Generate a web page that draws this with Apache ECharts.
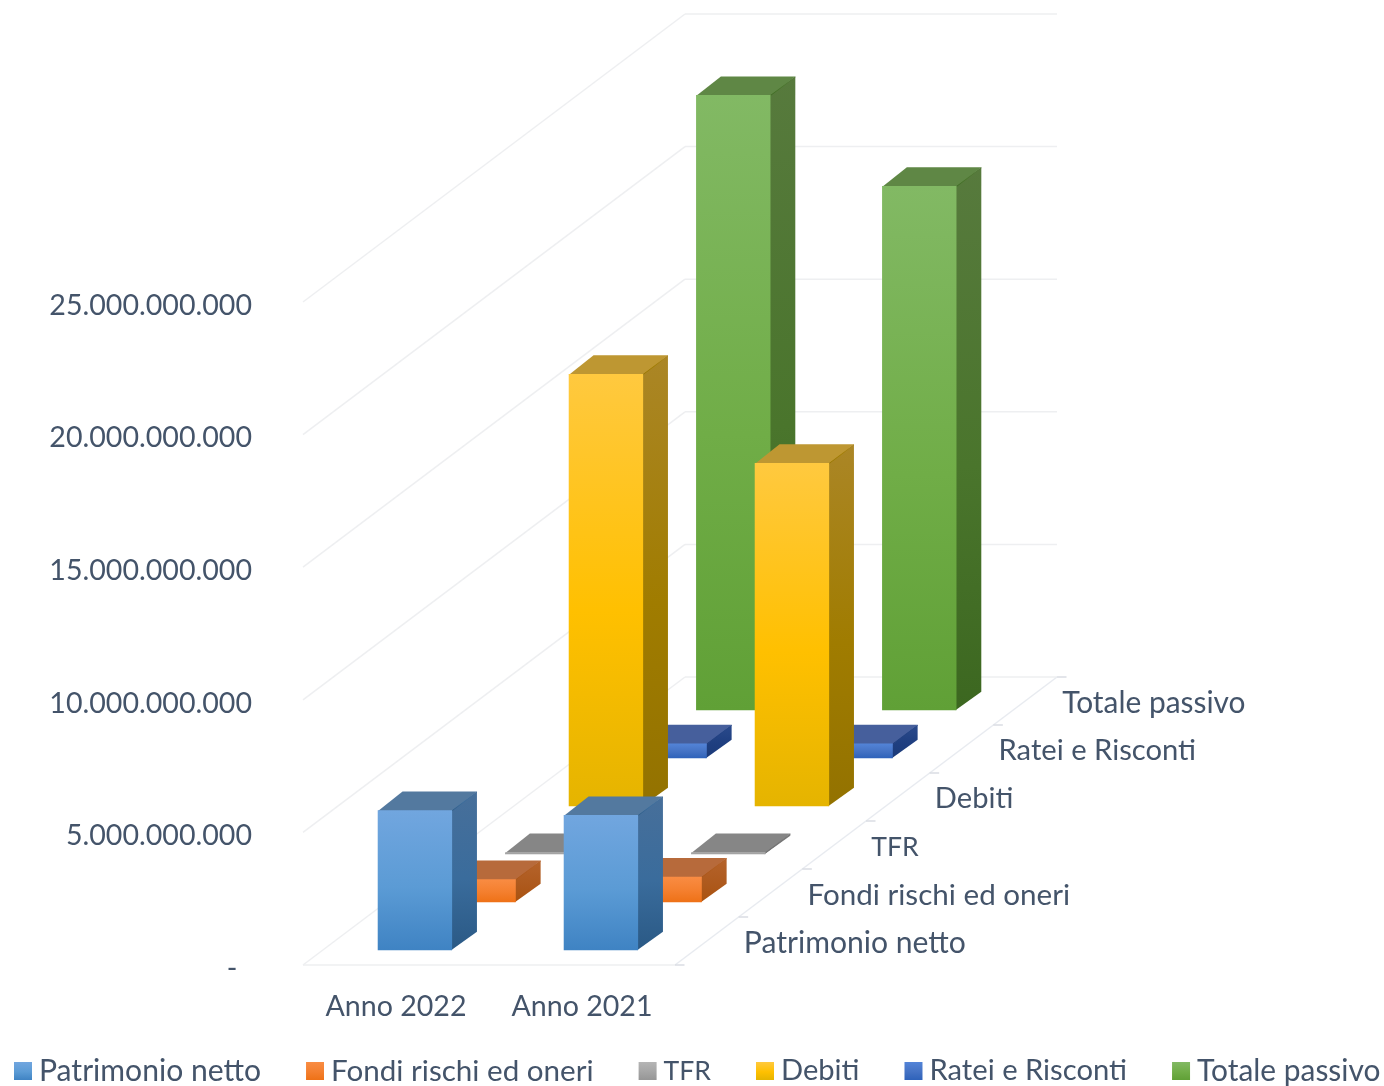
<!DOCTYPE html>
<html>
<head>
<meta charset="utf-8">
<style>html,body{margin:0;padding:0;background:#fff}#c{width:1384px;height:1086px}</style>
<script src="https://cdn.jsdelivr.net/npm/echarts@6/dist/echarts.min.js"></script>
</head>
<body>
<div id="c"></div>
<script>
const years = ['Anno 2022', 'Anno 2021'];
const names = ['Patrimonio netto', 'Fondi rischi ed oneri', 'TFR', 'Debiti', 'Ratei e Risconti', 'Totale passivo'];
const patrimonio = [5.28e9, 5.10e9];
const fondi = [0.87e9, 0.97e9];
const tfr = [0.08e9, 0.08e9];
const debiti = [16.3e9, 12.95e9];
const ratei = [0.56e9, 0.56e9];
const totale = [23.2e9, 19.77e9];
const valueTicks = [0, 5e9, 10e9, 15e9, 20e9, 25e9];

const seriesValues = [patrimonio, fondi, tfr, debiti, ratei, totale];

const grad = (a, b, c) => ({ type: 'linear', x: 0, y: 0, x2: 0, y2: 1,
  colorStops: [{ offset: 0, color: a }, { offset: 0.55, color: b }, { offset: 1, color: c }] });

const palette = [
  { front: grad('#71A6DF', '#5B9BD5', '#3F83C3'), side: grad('#476F9A', '#3A6C9C', '#2A5985'), top: '#53799F' },
  { front: grad('#F98C43', '#F47F2E', '#EE7116'), side: grad('#B5632B', '#AE5A1E', '#A9520F'), top: '#B76A3B' },
  { front: grad('#B5B5B5', '#A5A5A5', '#969696'), side: grad('#7C7C7C', '#747474', '#6C6C6C'), top: '#868686' },
  { front: grad('#FFC93F', '#FFC000', '#E5B400'), side: grad('#AB8626', '#A07C00', '#937200'), top: '#BE9732' },
  { front: grad('#5384D8', '#4472C4', '#2E62BA'), side: grad('#2A4A8C', '#1F3F80', '#1B3A78'), top: '#465F9C' },
  { front: grad('#82B964', '#70AD47', '#60A036'), side: grad('#577A3D', '#4A752C', '#3C6720'), top: '#5F8745' }
];

// Oblique projection of the depth axis, in pixels per depth step
const DX = 63.67, DY = 48;
const BAR_W = 0.4, BAR_D = 0.39;
const GRID = '#EEEFF1';
const TEXT = '#44546A';
const FONT = 'Lato';
const NUM_SIZE = 28.6;
// Lato stands in for the original font; per-word sizes keep each word's printed width
const wordSizes = [30.1, 29.6, 26.6, 29.1, 29.2, 29.9];

function line(p, q, color, w) {
  return { type: 'line', shape: { x1: p[0], y1: p[1], x2: q[0], y2: q[1] },
    style: { stroke: color || GRID, lineWidth: w || 1.5 }, silent: true };
}
function poly(points, fill) {
  return { type: 'polygon', shape: { points }, style: { fill, stroke: null }, silent: true };
}

function renderWall(params, api) {
  const v = api.value(1);
  const band = api.size([1, 0])[0];
  const a = api.coord([0, v]);
  const L = [a[0] - band / 2, a[1]];
  const B = [L[0] + DX * 6, L[1] - DY * 6];
  const R = [B[0] + band * 2, B[1]];
  return { type: 'group', children: [line(L, B), line(B, R)] };
}

function renderFloor(params, api) {
  const band = api.size([1, 0])[0];
  const a = api.coord([1, 0]);
  const l = api.coord([0, 0]);
  const fl = [l[0] - band / 2, l[1]];
  const fr = [a[0] + band / 2, a[1]];
  const kids = [line(fl, fr), line(fr, [fr[0] + DX * 6, fr[1] - DY * 6], '#E8EBF0')];
  for (let i = 0; i <= 6; i++) {
    const p = [fr[0] + DX * i, fr[1] - DY * i];
    kids.push(line(p, [p[0] + 9.5, p[1]], '#DADDE3', 1.5));
  }
  return { type: 'group', children: kids };
}

function renderDepthLabel(params, api) {
  const i = api.value(0);
  const band = api.size([1, 0])[0];
  const a = api.coord([1, 0]);
  const x = a[0] + band / 2 + DX * (i + 0.5) + 37;
  const y = a[1] - DY * (i + 0.5) + 2;
  return { type: 'text', silent: true, style: { x, y, text: names[i], fill: TEXT,
    font: wordSizes[i] + 'px ' + FONT, textAlign: 'left', textVerticalAlign: 'middle' } };
}

function makeBar(depth) {
  return function (params, api) {
    const cat = api.value(0), v = api.value(1);
    const band = api.size([1, 0])[0];
    const w = band * BAR_W;
    const d0 = depth + (1 - BAR_D) / 2;
    const base = api.coord([cat, 0]);
    const head = api.coord([cat, v]);
    const xl = base[0] - w / 2 + DX * d0 - 0.5;
    const xr = xl + w;
    const yb = base[1] - DY * d0;
    const yt = head[1] - DY * d0;
    const ox = DX * BAR_D, oy = DY * BAR_D;
    const c = palette[depth];
    // side and top run slightly under the front face so no seam shows through
    return { type: 'group', children: [
      poly([[xr - 1, yt], [xr + ox, yt - oy], [xr + ox, yb - oy], [xr - 1, yb]], c.side),
      poly([[xl, yt + 1], [xr, yt + 1], [xr + ox, yt - oy], [xl + ox, yt - oy]], c.top),
      poly([[xr, yt], [xr + ox, yt - oy], [xr + ox, yt - oy + 1], [xr, yt + 1]], c.side),
      poly([[xl, yt], [xr, yt], [xr, yb], [xl, yb]], c.front)
    ] };
  };
}

const series = [
  { type: 'custom', name: '_wall', z: 1, renderItem: renderWall, silent: true,
    encode: { x: 0, y: 1 }, data: valueTicks.map(v => [0, v]) },
  { type: 'custom', name: '_floor', z: 1, renderItem: renderFloor, silent: true,
    encode: { x: 0, y: 1 }, data: [[0, 0]] },
  { type: 'custom', name: '_depth', z: 30, renderItem: renderDepthLabel, silent: true,
    coordinateSystem: 'cartesian2d', encode: { y: 1 }, data: names.map((n, i) => [i, 0]) }
];

names.forEach((name, d) => {
  series.push({
    type: 'custom', name, z: 20 - d,
    renderItem: makeBar(d),
    itemStyle: { color: palette[d].front },
    encode: { x: 0, y: 1 },
    data: seriesValues[d].map((v, i) => [i, v])
  });
});

const chart = echarts.init(document.getElementById('c'), null, { renderer: 'canvas' });
chart.setOption({
  animation: false,
  backgroundColor: '#fff',
  tooltip: { show: false },
  grid: { left: 303, right: 709, top: 302, bottom: 121, containLabel: false },
  legend: {
    data: names.map((name, i) => ({ name, icon: 'rect', textStyle: { fontSize: wordSizes[i] } })),
    left: 14, top: 1056, width: 1370, padding: 0, itemWidth: 18, itemHeight: 18, itemGap: 45,
    selectedMode: false,
    textStyle: { color: TEXT, fontFamily: FONT, fontSize: 29.8, padding: [0, 0, 0, 2] }
  },
  xAxis: {
    type: 'category', data: years,
    axisLine: { show: false }, axisTick: { show: false }, splitLine: { show: false },
    axisLabel: { color: TEXT, fontFamily: FONT, fontSize: NUM_SIZE, margin: 27 }
  },
  yAxis: {
    type: 'value', min: 0, max: 25e9, interval: 5e9,
    axisLine: { show: false }, axisTick: { show: false }, splitLine: { show: false },
    axisLabel: {
      color: TEXT, fontFamily: FONT, fontSize: NUM_SIZE, margin: 51,
      formatter: v => '{v|' + (v === 0 ? '-  ' : String(v).replace(/\B(?=(\d{3})+(?!\d))/g, '.')) + '}',
      rich: { v: { color: TEXT, fontFamily: FONT, fontSize: NUM_SIZE, padding: [7, 0, 0, 0] } }
    }
  },
  series
});
</script>
</body>
</html>
